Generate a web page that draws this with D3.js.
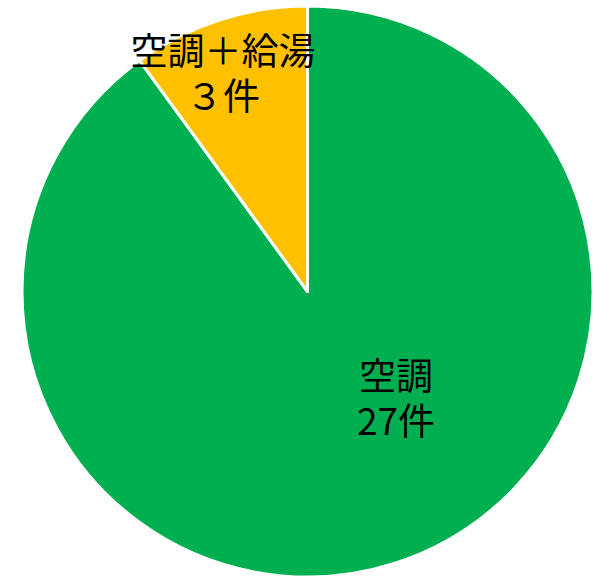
<!DOCTYPE html>
<html><head><meta charset="utf-8">
<script src="https://cdn.jsdelivr.net/npm/d3@7"></script>
<style>html,body{margin:0;padding:0;background:#fff;}svg{display:block;}</style>
</head><body>
<svg id="chart" width="595" height="578"></svg>
<script>
const categories = ["空調", "空調＋給湯"];
const values = [27, 3];
const labelLines = [["空調", "27件"], ["空調＋給湯", "３件"]];
const colors = ["#00B050", "#FFC000"];

const W = 595, H = 578;
const cx = 307.5, cy = 291.5, R = 285.5;
const svg = d3.select("#chart");
const g = svg.append("g").attr("transform", `translate(${cx},${cy})`);

const pie = d3.pie().sort(null).value(d => d);
const arcs = pie(values);
const arc = d3.arc().innerRadius(0).outerRadius(R);

g.selectAll("path").data(arcs).enter().append("path")
  .attr("d", arc)
  .attr("fill", (d, i) => colors[i])
  .attr("stroke", "#fff")
  .attr("stroke-width", 3)
  .attr("stroke-linejoin", "round");

const labelPos = [
  [396 - cx, 400 - cy],
  [223 - cx, 75 - cy]
];
const lh = 45;
labelLines.forEach((lines, i) => {
  const t = g.append("text")
    .attr("text-anchor", "middle")
    .attr("font-family", "'Noto Sans CJK JP', 'Noto Sans', sans-serif")
    .attr("font-size", 37)
    .attr("fill", "#000");
  lines.forEach((s, j) => {
    t.append("tspan")
      .attr("x", labelPos[i][0])
      .attr("y", labelPos[i][1] + (j - (lines.length - 1) / 2) * lh)
      .attr("dy", "0.35em")
      .text(s);
  });
});
</script>
</body></html>
